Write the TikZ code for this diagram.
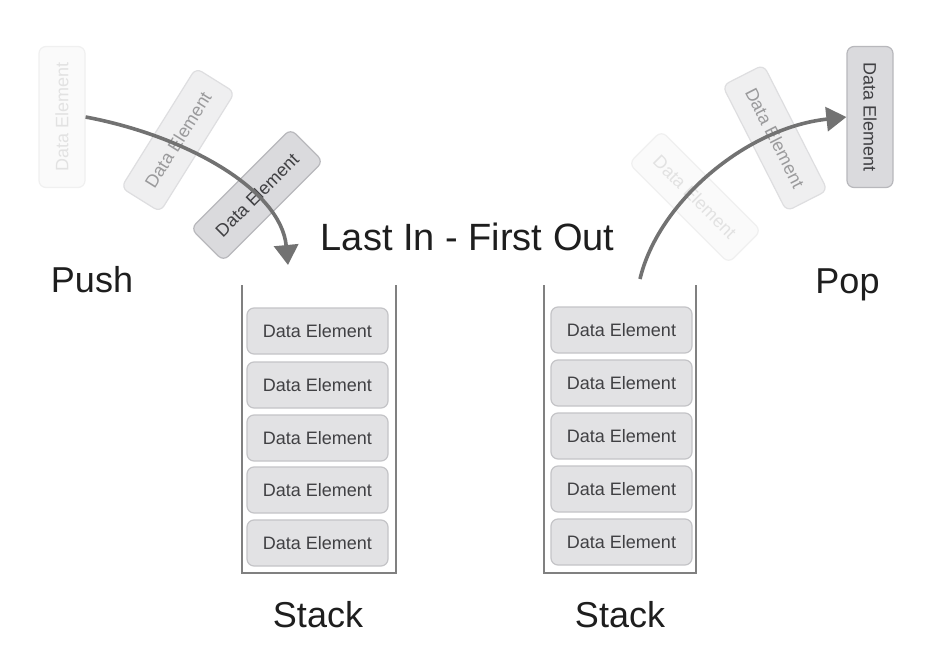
\documentclass[tikz,border=0pt]{standalone}
\usepackage{fontspec}
\setmainfont{Liberation Sans}
\usetikzlibrary{arrows.meta}
\definecolor{boxfill}{HTML}{E2E2E4}
\definecolor{boxdraw}{HTML}{C4C4C7}
\definecolor{boxtext}{HTML}{404043}
\definecolor{darkfill}{HTML}{DADADD}
\definecolor{darkdraw}{HTML}{B8B8BC}
\definecolor{midfill}{HTML}{EFEFF0}
\definecolor{middraw}{HTML}{DEDEE0}
\definecolor{midtext}{HTML}{9A9A9C}
\definecolor{lowfill}{HTML}{FAFAFA}
\definecolor{lowdraw}{HTML}{F0F0F0}
\definecolor{lowtext}{HTML}{E2E2E2}
\definecolor{wallgray}{HTML}{808080}
\definecolor{arrowgray}{HTML}{727272}
\definecolor{textdark}{HTML}{1E1E1E}
\begin{document}
\begin{tikzpicture}[x=1pt,y=-1pt,
  elem/.style={draw=boxdraw, fill=boxfill, line width=1.2pt, rounded corners=7pt,
    minimum width=141pt, minimum height=46pt, inner sep=0pt, text=boxtext,
    font=\fontsize{18pt}{20pt}\selectfont},
  darkelem/.style={elem, draw=darkdraw, fill=darkfill},
  midelem/.style={elem, draw=middraw, fill=midfill, text=midtext},
  lowelem/.style={elem, draw=lowdraw, fill=lowfill, text=lowtext},
  big/.style={font=\fontsize{36pt}{40pt}\selectfont, text=textdark, inner sep=0pt, anchor=base},
  wall/.style={draw=wallgray, line width=2pt},
  flow/.style={draw=arrowgray, line width=3.6pt, -{Triangle[length=20pt,width=24pt]}}
]
\fill[white] (0,0) rectangle (943,646);
\useasboundingbox (0,0) rectangle (943,646);

% left pushed elements
\node[lowelem, rotate=90] (A) at (62,117) {Data Element};
\node[midelem, rotate=58] (B) at (178,140) {Data Element};
\node[darkelem, rotate=45] (C) at (257,195) {Data Element};
\coordinate (pushend) at (288,265);
\draw[flow] (A.south) .. controls (187,136) and (281,190) .. (pushend);

% right popped elements
\node[lowelem, rotate=-45] (F) at (695,197) {Data Element};
\node[midelem, rotate=-63] (E) at (775,138) {Data Element};
\node[darkelem, rotate=-90] (D) at (870,117) {Data Element};
\coordinate (popstart) at (640,279);
\draw[flow] (popstart) .. controls (658,203) and (745,128) .. (D.south);

% left stack
\coordinate (LT) at (242,285);
\coordinate (LB) at (396,573);
\draw[wall] (LT) |- (LB) -- (LB |- LT);
\foreach \i/\y in {1/331,2/385,3/438,4/490,5/543}
  \node[elem] (L\i) at (317.5,\y) {Data Element};

% right stack
\coordinate (RT) at (544,285);
\coordinate (RB) at (696,573);
\draw[wall] (RT) |- (RB) -- (RB |- RT);
\foreach \i/\y in {1/330,2/383,3/436,4/489,5/542}
  \node[elem] (R\i) at (621.5,\y) {Data Element};

% labels
\node[big, font=\fontsize{38pt}{42pt}\selectfont] (title) at (467.5,250) {Last In - First Out};
\node[big] (push) at (92,292) {Push};
\node[big] (pop) at (847.5,293) {Pop};
\node[big] (stackL) at (318,627) {Stack};
\node[big] (stackR) at (620,627) {Stack};
\end{tikzpicture}
\end{document}
